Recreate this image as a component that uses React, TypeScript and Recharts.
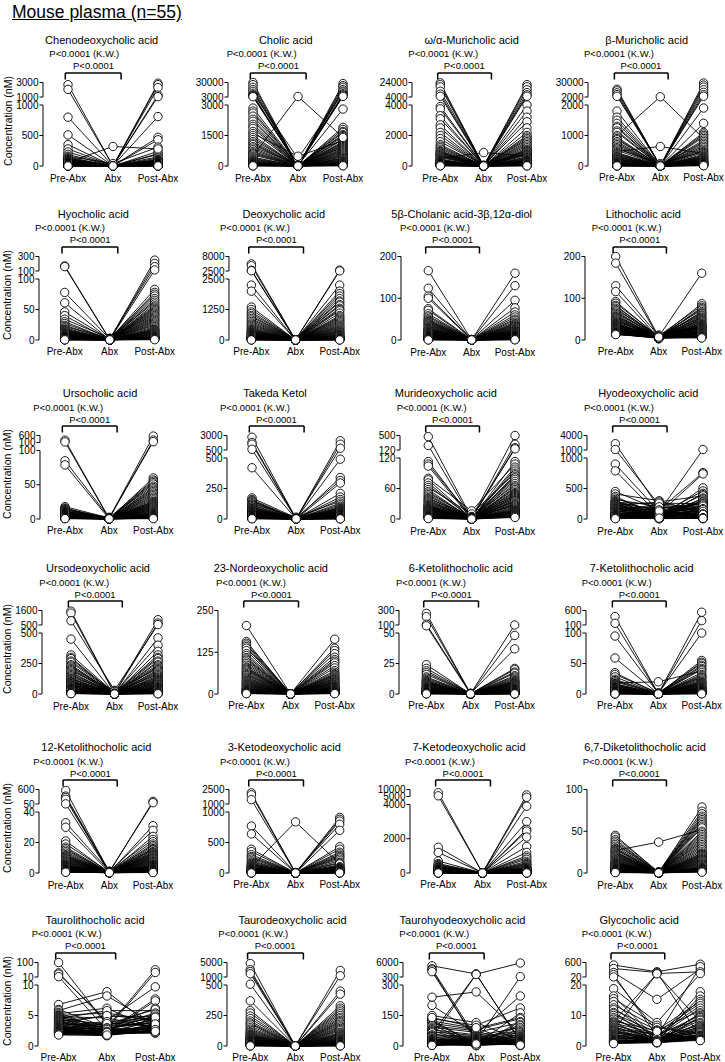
import React from 'react';
import { ComposedChart, Line, Scatter, XAxis, YAxis, ReferenceLine } from 'recharts';

const CATS = ['Pre-Abx', 'Abx', 'Post-Abx'];

// values in nM, one entry per mouse (n=55)
const cdcaPre = [2700, 2050, 800, 510, 350, 280, 230, 190, 160, 145, 130, 120, 110, 100, 95, 90, 85, 80, 75, 70, 65, 60, 55, 50, 48, 45, 42, 40, 38, 35, 32, 30, 28, 26, 24, 22, 20, 18, 16, 15, 14, 12, 11, 10, 9, 8, 7, 6, 5, 5, 4, 3, 3, 2, 1];
const cdcaAbx = [0, 0, 1, 2, 0, 5, 3, 0, 40, 0, 2, 0, 4, 0, 1, 0, 8, 0, 0, 3, 0, 320, 0, 2, 0, 1, 0, 0, 6, 0, 0, 2, 0, 0, 1, 0, 0, 3, 0, 0, 1, 0, 0, 0, 2, 0, 0, 0, 1, 0, 0, 0, 1, 0, 0];
const cdcaPost = [2900, 2700, 2300, 1250, 1050, 810, 470, 430, 310, 240, 200, 190, 150, 130, 110, 100, 95, 90, 85, 80, 75, 280, 70, 65, 60, 55, 50, 48, 45, 42, 40, 38, 35, 32, 30, 28, 26, 24, 22, 20, 18, 16, 15, 14, 12, 10, 9, 8, 7, 6, 5, 4, 3, 2, 1];

const caPre = [30000, 26000, 21000, 17000, 13500, 10000, 7300, 5500, 4200, 3500, 2850, 2700, 2600, 2450, 2300, 2200, 2050, 1950, 1850, 1700, 1600, 1500, 1400, 1300, 1200, 1120, 1050, 950, 880, 800, 720, 650, 600, 540, 480, 430, 380, 330, 290, 250, 220, 190, 160, 140, 120, 100, 85, 70, 60, 50, 40, 30, 20, 10, 5];
const caAbx = [0, 0, 10, 0, 20, 370, 0, 5, 0, 0, 30, 0, 0, 15, 0, 0, 40, 0, 0, 10, 480, 0, 0, 25, 0, 0, 0, 60, 0, 0, 0, 10, 0, 0, 4000, 0, 0, 20, 0, 0, 0, 0, 5, 0, 0, 0, 10, 0, 0, 0, 0, 5, 0, 0, 0];
const caPost = [28000, 24000, 21000, 17000, 14000, 12000, 9000, 7000, 5000, 4200, 2800, 1900, 1800, 1700, 1650, 1550, 1500, 1450, 1350, 1300, 1250, 1200, 1150, 1100, 1050, 1000, 950, 900, 850, 800, 750, 700, 650, 600, 1400, 550, 500, 450, 400, 370, 340, 300, 260, 230, 200, 180, 160, 140, 120, 100, 80, 60, 40, 20, 10];

const mcaPre = [23500, 21000, 18000, 12000, 8000, 5000, 3900, 3750, 3300, 3100, 2700, 2500, 2200, 2000, 1800, 1600, 1400, 1300, 1200, 1100, 1000, 950, 900, 850, 800, 750, 700, 650, 600, 550, 500, 450, 400, 380, 350, 320, 300, 280, 250, 220, 200, 180, 160, 140, 120, 100, 90, 80, 70, 60, 50, 40, 30, 20, 10];
const mcaAbx = [0, 0, 0, 20, 0, 0, 10, 0, 0, 30, 0, 0, 5, 0, 0, 50, 0, 0, 0, 15, 0, 0, 0, 40, 0, 0, 0, 10, 0, 0, 880, 0, 0, 0, 20, 0, 0, 0, 5, 0, 0, 0, 10, 0, 0, 0, 0, 0, 5, 0, 0, 0, 0, 0, 0];
const mcaPost = [21000, 18000, 14000, 10000, 7000, 5000, 4000, 3600, 3200, 2900, 2500, 2200, 2000, 1900, 1800, 1700, 1600, 1500, 1400, 1300, 1200, 1100, 1050, 1000, 950, 900, 850, 800, 750, 700, 650, 600, 550, 500, 450, 400, 380, 350, 320, 300, 270, 250, 220, 200, 180, 150, 130, 110, 90, 70, 50, 40, 30, 20, 10];

const bmcaPre = [17000, 14000, 10000, 6500, 3300, 1800, 1600, 1500, 1400, 1300, 1250, 1150, 1100, 1000, 950, 900, 860, 800, 750, 700, 650, 600, 560, 520, 480, 440, 410, 380, 350, 320, 300, 280, 250, 230, 210, 190, 170, 150, 130, 110, 100, 90, 80, 70, 60, 50, 40, 30, 25, 20, 15, 10, 8, 5, 2];
const bmcaAbx = [0, 0, 0, 10, 0, 0, 20, 0, 0, 5, 0, 0, 0, 2500, 0, 0, 30, 0, 0, 0, 10, 0, 80, 0, 640, 0, 0, 0, 15, 0, 0, 0, 5, 0, 0, 0, 40, 0, 0, 0, 0, 10, 0, 0, 0, 0, 0, 5, 0, 0, 0, 0, 0, 0, 0];
const bmcaPost = [29000, 25000, 21000, 16000, 11000, 6500, 3300, 1900, 1400, 1100, 1050, 1000, 950, 900, 850, 800, 750, 700, 650, 600, 550, 500, 470, 440, 410, 380, 350, 320, 300, 280, 260, 240, 220, 200, 180, 160, 150, 140, 130, 120, 110, 100, 90, 80, 70, 60, 50, 45, 40, 35, 30, 25, 20, 15, 10];

const hcaPre = [170, 160, 78, 61, 46, 40, 34, 30, 27, 24, 22, 20, 18, 17, 16, 15, 14, 13, 12, 11, 10, 9.5, 9, 8.5, 8, 7.5, 7, 6.5, 6, 5.5, 5, 4.8, 4.5, 4.2, 4, 3.8, 3.5, 3.2, 3, 2.8, 2.5, 2.2, 2, 1.8, 1.6, 1.4, 1.2, 1, 0.9, 0.8, 0.7, 0.6, 0.5, 0.4, 0.3];
const hcaAbx = [1, 0.5, 2, 0.3, 1.5, 0.2, 3, 0.5, 1, 0.2, 2.5, 0.4, 1, 0.3, 0.8, 0.2, 1.2, 0.5, 0.3, 2, 0.6, 0.2, 1, 0.4, 0.3, 0.8, 0.2, 0.5, 1.5, 0.3, 0.2, 0.6, 0.4, 1, 0.3, 0.2, 0.5, 0.8, 0.2, 0.3, 0.4, 0.2, 1, 0.3, 0.5, 0.2, 0.3, 0.6, 0.2, 0.4, 0.3, 0.2, 0.5, 0.3, 0.2];
const hcaPost = [250, 205, 160, 115, 83, 78, 75, 72, 68, 65, 62, 59, 56, 54, 52, 50, 48, 46, 44, 42, 40, 38, 36, 34, 32, 30, 28, 26, 24, 22, 20, 18, 17, 16, 15, 14, 13, 12, 11, 10, 9, 8, 7, 6, 5.5, 5, 4.5, 4, 3.5, 3, 2.5, 2, 1.5, 1, 0.5];

const dcaPre = [5200, 4500, 2800, 2600, 2250, 2000, 1350, 1250, 1150, 1080, 1000, 950, 880, 820, 760, 700, 650, 600, 550, 500, 460, 420, 400, 380, 350, 320, 300, 280, 260, 240, 220, 200, 180, 160, 150, 140, 130, 120, 110, 100, 90, 80, 70, 60, 50, 45, 40, 35, 30, 25, 20, 15, 10, 5, 2];
const dcaAbx = [0, 1, 0, 2, 0, 0, 3, 0, 1, 0, 0, 2, 0, 0, 1, 0, 0, 4, 0, 0, 1, 0, 0, 2, 0, 0, 1, 0, 0, 0, 3, 0, 0, 1, 0, 0, 0, 2, 0, 0, 1, 0, 0, 0, 2, 0, 0, 1, 0, 0, 0, 1, 0, 0, 0];
const dcaPost = [2800, 2550, 2250, 2000, 1900, 1800, 1700, 1600, 1550, 1450, 1400, 1300, 1250, 1200, 1100, 1000, 950, 900, 850, 800, 750, 700, 650, 600, 560, 520, 480, 440, 400, 370, 340, 310, 280, 250, 220, 200, 180, 160, 140, 120, 100, 90, 80, 70, 60, 50, 40, 35, 30, 25, 20, 15, 10, 5, 2];

const cholanPre = [166, 124, 105, 100, 75, 71, 63, 58, 55, 51, 48, 46, 44, 42, 40, 38, 36, 34, 32, 30, 28, 27, 26, 25, 24, 22, 21, 20, 19, 18, 17, 16, 15, 14, 13, 12, 11, 10, 9, 8, 7, 6.5, 6, 5.5, 5, 4.5, 4, 3.5, 3, 2.5, 2, 1.5, 1, 0.5, 0.2];
const cholanAbx = [0.5, 0.2, 1, 0.3, 0.8, 0.1, 0.4, 1.2, 0.2, 0.6, 0.3, 0.1, 0.9, 0.2, 0.5, 0.3, 0.1, 0.7, 0.2, 0.4, 0.1, 1, 0.3, 0.2, 0.5, 0.1, 0.3, 0.6, 0.2, 0.1, 0.4, 0.2, 0.8, 0.1, 0.3, 0.2, 0.5, 0.1, 0.2, 0.3, 0.1, 0.4, 0.2, 0.1, 0.3, 0.2, 0.1, 0.5, 0.2, 0.1, 0.3, 0.1, 0.2, 0.1, 0.1];
const cholanPost = [160, 130, 95, 77, 67, 60, 55, 50, 47, 43, 40, 38, 36, 34, 32, 30, 28, 26, 25, 24, 22, 21, 20, 19, 18, 17, 16, 15, 14, 13, 12, 11, 10, 9, 8.5, 8, 7.5, 7, 6.5, 6, 5.5, 5, 4.5, 4, 3.5, 3, 2.8, 2.5, 2.2, 2, 1.8, 1.5, 1.2, 1, 0.5];

const lcaPre = [200, 184, 130, 116, 92, 88, 83, 80, 76, 73, 70, 67, 64, 61, 58, 56, 54, 52, 50, 48, 46, 44, 42, 40, 39, 38, 37, 36, 35, 34, 33, 32, 31, 30, 29, 28, 27, 26, 25, 24, 23, 22, 21, 20, 19, 18, 17, 16.5, 16, 15.5, 15, 14.5, 14, 13.5, 13];
const lcaAbx = [8, 6, 10, 5, 7, 9, 4, 8, 6, 11, 5, 7, 8, 4, 6, 9, 5, 7, 3, 8, 6, 10, 5, 7, 4, 8, 6, 9, 5, 7, 12, 4, 6, 8, 5, 7, 3, 6, 9, 5, 7, 4, 8, 6, 5, 10, 4, 7, 6, 5, 8, 4, 6, 5, 7];
const lcaPost = [160, 87, 82, 78, 75, 72, 68, 65, 63, 60, 58, 55, 53, 51, 49, 47, 45, 43, 41, 39, 37, 36, 35, 34, 33, 32, 31, 30, 29, 28, 27, 26, 25, 24, 23, 22, 21, 20, 19, 18, 17, 16, 15, 14, 13, 12, 11, 10, 9, 8, 7, 6.5, 6, 5.5, 5];

const ucaPre = [260, 140, 85, 79, 18, 16, 15, 14, 13, 12, 11.5, 11, 10.5, 10, 9.5, 9, 8.5, 8, 7.5, 7, 6.8, 6.5, 6.2, 6, 5.8, 5.5, 5.2, 5, 4.8, 4.5, 4.2, 4, 3.8, 3.5, 3.2, 3, 2.8, 2.6, 2.4, 2.2, 2, 1.9, 1.8, 1.7, 1.6, 1.5, 1.4, 1.3, 1.2, 1.1, 1, 0.9, 0.8, 0.7, 0.5];
const ucaAbx = [1, 0.5, 2, 0.3, 1.5, 0.2, 1, 0.5, 2.5, 0.3, 0.8, 0.2, 1.2, 0.4, 0.6, 0.2, 1, 0.3, 0.5, 0.2, 0.8, 0.3, 0.5, 0.2, 1.5, 0.4, 0.2, 0.6, 0.3, 0.2, 0.5, 0.3, 0.8, 0.2, 0.4, 0.2, 0.3, 0.5, 0.2, 0.3, 0.2, 0.4, 0.2, 0.3, 0.6, 0.2, 0.3, 0.2, 0.4, 0.2, 0.3, 0.2, 0.2, 0.3, 0.2];
const ucaPost = [560, 270, 160, 60, 57, 55, 53, 51, 48, 46, 44, 42, 40, 38, 36, 34, 32, 30, 28, 26, 25, 24, 23, 22, 21, 20, 19, 18, 17, 16, 15, 14, 13, 12, 11, 10, 9, 8, 7.5, 7, 6.5, 6, 5.5, 5, 4.5, 4, 3.5, 3, 2.5, 2, 1.8, 1.5, 1.2, 1, 0.5];

const tkPre = [2700, 1800, 1500, 620, 420, 172, 160, 150, 145, 135, 125, 117, 110, 100, 96, 90, 85, 80, 76, 72, 68, 65, 62, 58, 55, 52, 50, 47, 44, 41, 38, 35, 32, 30, 28, 26, 24, 22, 20, 18, 16, 15, 14, 13, 12, 11, 10, 9, 8, 7, 6, 5, 4, 3, 2];
const tkAbx = [2, 0, 5, 1, 0, 10, 0, 3, 1, 0, 15, 0, 2, 0, 1, 4, 0, 0, 2, 0, 8, 0, 1, 0, 3, 0, 0, 1, 0, 5, 0, 2, 0, 0, 1, 0, 3, 0, 0, 1, 0, 2, 0, 1, 0, 0, 1, 0, 2, 0, 0, 1, 0, 0, 1];
const tkPost = [2100, 1500, 800, 490, 340, 315, 295, 210, 180, 160, 145, 130, 117, 105, 96, 90, 85, 80, 75, 70, 66, 63, 60, 56, 52, 48, 45, 42, 39, 36, 33, 30, 28, 26, 24, 22, 20, 18, 16, 14, 13, 12, 11, 10, 9, 8, 7, 6, 5, 4.5, 4, 3.5, 3, 2, 1];

const mdcaPre = [470, 240, 113, 108, 104, 80, 77, 71, 66, 62, 58, 54, 51, 48, 45, 42, 40, 38, 36, 34, 32, 30, 28, 27, 26, 25, 24, 23, 22, 21, 20, 19, 18, 17, 16, 15, 14, 13, 12, 11, 10, 9, 8, 7, 6, 5.5, 5, 4.5, 4, 3.5, 3, 2.5, 2, 1.5, 1];
const mdcaAbx = [2, 0, 1, 3, 0, 16, 1, 0, 2, 10, 0, 1, 3, 0, 2, 0, 5, 1, 0, 2, 0, 4, 1, 0, 3, 0, 1, 2, 0, 1, 0, 2, 0, 1, 0, 3, 0, 1, 0, 2, 0, 1, 0, 0, 1, 0, 2, 0, 1, 0, 0, 1, 0, 0, 0];
const mdcaPost = [500, 270, 180, 150, 113, 108, 102, 98, 94, 90, 87, 84, 81, 78, 74, 70, 66, 63, 61, 58, 55, 52, 50, 48, 46, 44, 42, 40, 38, 36, 35, 33, 31, 29, 28, 26, 24, 22, 20, 18, 17, 16, 15, 14, 13, 12, 11, 10, 9, 8, 7, 6, 5, 4, 3];

const hdcaPre = [2300, 1100, 900, 790, 450, 410, 370, 344, 320, 300, 290, 280, 270, 260, 250, 240, 235, 230, 220, 210, 200, 190, 180, 175, 170, 160, 150, 140, 130, 125, 120, 110, 100, 95, 90, 85, 82, 78, 74, 70, 65, 60, 55, 50, 45, 44, 40, 35, 30, 25, 20, 16, 12, 8, 5];
const hdcaAbx = [180, 230, 120, 60, 150, 300, 40, 90, 200, 20, 130, 70, 250, 10, 160, 50, 110, 30, 280, 80, 5, 140, 60, 190, 25, 100, 15, 220, 45, 75, 170, 35, 260, 8, 120, 55, 90, 12, 140, 65, 30, 200, 85, 20, 110, 40, 150, 10, 70, 25, 95, 5, 50, 130, 15];
const hdcaPost = [240, 150, 1100, 200, 760, 90, 300, 740, 130, 510, 60, 460, 180, 420, 110, 400, 270, 80, 380, 220, 344, 40, 330, 160, 310, 100, 290, 55, 280, 140, 260, 25, 250, 190, 230, 70, 210, 120, 170, 35, 155, 95, 125, 50, 85, 65, 45, 30, 75, 20, 16, 12, 8, 5, 10];

const udcaPre = [1550, 1400, 820, 450, 320, 300, 290, 270, 260, 240, 230, 220, 210, 200, 190, 180, 170, 160, 150, 140, 130, 125, 120, 110, 105, 100, 95, 90, 85, 80, 75, 70, 65, 60, 55, 50, 45, 42, 40, 36, 32, 28, 25, 22, 20, 18, 16, 14, 12, 10, 8, 6, 5, 4, 3];
const udcaAbx = [5, 2, 30, 0, 8, 1, 0, 15, 3, 0, 2, 10, 0, 1, 25, 0, 4, 0, 2, 12, 0, 1, 6, 0, 3, 0, 20, 1, 0, 2, 0, 5, 1, 0, 8, 0, 2, 0, 1, 0, 3, 0, 1, 0, 2, 0, 0, 1, 0, 0, 1, 0, 0, 1, 0];
const udcaPost = [900, 650, 530, 460, 400, 350, 320, 300, 290, 270, 260, 240, 230, 220, 210, 200, 190, 180, 170, 160, 150, 140, 133, 125, 118, 110, 105, 100, 95, 90, 83, 78, 72, 66, 61, 56, 52, 48, 44, 40, 36, 32, 28, 25, 22, 20, 18, 15, 12, 10, 8, 6, 4, 3, 2];

const norPre = [205, 157, 152, 147, 142, 137, 130, 121, 115, 109, 105, 101, 96, 91, 86, 81, 78, 75, 72, 69, 65, 61, 58, 55, 51, 48, 45, 42, 40, 37, 35, 32, 30, 28, 26, 24, 22, 20, 18, 16, 15, 14, 12, 11, 10, 9, 8, 7, 6, 5, 4, 3, 2, 1.5, 1];
const norAbx = [0.5, 0.2, 1, 0.1, 0.3, 0.8, 0.2, 0.1, 0.5, 0.3, 0.1, 1.2, 0.2, 0.4, 0.1, 0.3, 0.6, 0.2, 0.1, 0.4, 0.2, 0.1, 0.8, 0.3, 0.1, 0.2, 0.5, 0.1, 0.3, 0.2, 0.1, 0.4, 0.2, 0.1, 0.3, 0.1, 0.2, 0.5, 0.1, 0.2, 0.3, 0.1, 0.2, 0.1, 0.4, 0.1, 0.2, 0.1, 0.3, 0.1, 0.2, 0.1, 0.1, 0.2, 0.1];
const norPost = [164, 137, 130, 121, 110, 103, 98, 93, 85, 78, 70, 65, 61, 58, 56, 53, 50, 47, 45, 43, 40, 38, 36, 34, 32, 30, 28, 26, 24, 22, 21, 20, 19, 18, 17, 16, 15, 14, 13, 12, 11, 10, 9, 8, 7, 6, 5, 4.5, 4, 3.5, 3, 2.5, 2, 1.5, 1];

const k6Pre = [260, 215, 110, 95, 24, 21, 19, 17.5, 16, 14, 13, 12, 11, 10.5, 10, 9.5, 9, 8.5, 8, 7.5, 7, 6.5, 6, 5.5, 5, 4.8, 4.5, 4.2, 4, 3.8, 3.5, 3.2, 3, 2.8, 2.6, 2.4, 2.2, 2, 1.8, 1.6, 1.5, 1.4, 1.3, 1.2, 1.1, 1, 0.9, 0.8, 0.7, 0.6, 0.5, 0.4, 0.3, 0.2, 0.1];
const k6Abx = [0.3, 0.1, 0.5, 0.2, 0.1, 0.4, 0.2, 0.1, 0.3, 0.1, 0.2, 0.5, 0.1, 0.2, 0.1, 0.3, 0.1, 0.2, 0.1, 0.4, 0.1, 0.2, 0.1, 0.3, 0.1, 0.2, 0.1, 0.1, 0.2, 0.1, 0.3, 0.1, 0.2, 0.1, 0.1, 0.2, 0.1, 0.3, 0.1, 0.1, 0.2, 0.1, 0.1, 0.2, 0.1, 0.1, 0.2, 0.1, 0.1, 0.1, 0.2, 0.1, 0.1, 0.1, 0.1];
const k6Post = [100, 48, 37, 21, 20, 18, 17, 15, 14, 13, 12, 11, 10.5, 10, 9.5, 9, 8.5, 8, 7.5, 7, 6.5, 6, 5.5, 5, 4.5, 4, 3.8, 3.5, 3.2, 3, 2.8, 2.6, 2.4, 2.2, 2, 1.8, 1.6, 1.5, 1.4, 1.3, 1.2, 1.1, 1, 0.9, 0.8, 0.7, 0.6, 0.5, 0.4, 0.35, 0.3, 0.25, 0.2, 0.15, 0.1];

const k7Pre = [390, 160, 95, 59, 35, 32, 28, 24, 22, 20, 18, 17, 16, 15, 14, 13, 12, 11, 10.5, 10, 9.5, 9, 8.5, 8, 7.5, 7, 6.5, 6, 5.5, 5, 4.8, 4.5, 4.2, 4, 3.8, 3.5, 3.2, 3, 2.8, 2.6, 2.4, 2.2, 2, 1.8, 1.6, 1.5, 1.4, 1.2, 1, 0.9, 0.8, 0.6, 0.5, 0.3, 0.2];
const k7Abx = [0.5, 0.2, 1, 0.3, 0.1, 2, 0.4, 0.2, 0.1, 0.5, 20, 0.3, 0.1, 0.2, 1, 0.1, 0.3, 0.2, 0.1, 0.4, 0.2, 0.1, 0.3, 0.1, 0.2, 0.5, 0.1, 0.2, 0.1, 0.3, 0.1, 0.2, 0.1, 0.1, 0.3, 0.1, 0.2, 0.1, 0.1, 0.2, 0.1, 0.1, 0.2, 0.1, 0.1, 0.1, 0.2, 0.1, 0.1, 0.1, 0.1, 0.2, 0.1, 0.1, 0.1];
const k7Post = [540, 250, 100, 55, 52, 50, 47, 45, 42, 40, 38, 35, 32, 30, 28, 27, 25, 23, 21, 20, 19, 18, 17, 16, 15, 14, 13, 12, 11, 10, 9.5, 9, 8.5, 8, 7.5, 7, 6.5, 6, 5.5, 5, 4.5, 4, 3.5, 3, 2.8, 2.5, 2.2, 2, 1.8, 1.5, 1.2, 1, 0.8, 0.5, 0.3];

const k12Pre = [560, 350, 300, 230, 55, 33, 30, 21, 19, 17, 16, 15, 14, 13, 12, 11.5, 11, 10.5, 10, 9.5, 9, 8.5, 8, 7.5, 7, 6.5, 6, 5.5, 5.2, 5, 4.8, 4.5, 4.2, 4, 3.8, 3.5, 3.2, 3, 2.8, 2.6, 2.4, 2.2, 2, 1.8, 1.6, 1.5, 1.4, 1.3, 1.2, 1.1, 1, 0.9, 0.8, 0.6, 0.5];
const k12Abx = [0.5, 1, 0.3, 0.8, 0.2, 1.2, 0.4, 0.2, 0.6, 0.3, 0.2, 0.5, 0.3, 0.2, 0.8, 0.2, 0.4, 0.3, 0.2, 0.5, 0.3, 0.2, 0.4, 0.2, 0.3, 0.6, 0.2, 0.3, 0.2, 0.4, 0.2, 0.3, 0.2, 0.5, 0.2, 0.3, 0.2, 0.2, 0.4, 0.2, 0.3, 0.2, 0.2, 0.3, 0.2, 0.2, 0.3, 0.2, 0.2, 0.2, 0.3, 0.2, 0.2, 0.2, 0.2];
const k12Post = [150, 100, 31, 28, 24, 22, 20.5, 19, 18, 17, 16, 15.5, 15, 14, 13.5, 13, 12.5, 12, 11.5, 11, 10.5, 10, 9.5, 9, 8.5, 8, 7.5, 7, 6.5, 6, 5.5, 5, 4.8, 4.5, 4.2, 4, 3.8, 3.5, 3.2, 3, 2.8, 2.5, 2.2, 2, 1.8, 1.6, 1.4, 1.2, 1, 0.9, 0.8, 0.6, 0.5, 0.4, 0.3];

const k3Pre = [2150, 1950, 1450, 770, 640, 390, 350, 300, 270, 250, 227, 200, 180, 162, 150, 140, 130, 119, 110, 100, 95, 90, 85, 81, 75, 70, 65, 60, 54, 50, 46, 42, 38, 35, 32, 29, 27, 25, 22, 20, 18, 16, 14, 12, 10, 9, 8, 7, 6, 5, 4, 3, 2, 1.5, 1];
const k3Abx = [0, 2, 0, 5, 0, 1, 0, 0, 3, 0, 1, 0, 8, 0, 0, 2, 0, 1, 0, 838, 0, 0, 4, 0, 1, 0, 0, 2, 0, 0, 1, 0, 0, 6, 0, 0, 1, 0, 0, 2, 0, 0, 1, 0, 0, 0, 1, 0, 0, 0, 1, 0, 0, 0, 0];
const k3Post = [910, 880, 850, 800, 700, 430, 390, 340, 314, 290, 270, 250, 227, 200, 173, 160, 135, 120, 110, 150, 100, 95, 90, 81, 75, 70, 65, 60, 55, 50, 46, 42, 38, 35, 32, 29, 27, 25, 22, 20, 18, 16, 14, 12, 10, 9, 8, 7, 6, 5, 4, 3, 2, 1.5, 1];

const k7dPre = [7700, 5500, 1500, 1200, 700, 550, 500, 450, 400, 390, 350, 320, 300, 290, 270, 250, 230, 210, 200, 190, 180, 170, 160, 156, 150, 140, 130, 120, 110, 100, 95, 90, 85, 80, 75, 70, 65, 60, 55, 50, 45, 40, 35, 30, 28, 25, 22, 20, 18, 15, 12, 10, 8, 5, 2];
const k7dAbx = [0, 2, 0, 5, 0, 1, 0, 10, 0, 0, 3, 0, 1, 0, 0, 2, 0, 0, 6, 0, 1, 0, 0, 3, 0, 0, 1, 0, 0, 2, 0, 0, 1, 0, 4, 0, 0, 1, 0, 0, 2, 0, 0, 1, 0, 0, 0, 1, 0, 0, 0, 1, 0, 0, 0];
const k7dPost = [6100, 4900, 3900, 3000, 2550, 2450, 2100, 1550, 1200, 1000, 900, 800, 680, 600, 550, 490, 450, 400, 350, 300, 290, 270, 250, 230, 210, 190, 170, 156, 140, 130, 120, 110, 100, 90, 80, 70, 65, 60, 55, 50, 45, 40, 35, 30, 28, 25, 22, 20, 18, 15, 12, 10, 8, 5, 2];

const dkPre = [45, 43, 40, 38, 36, 34, 32, 30, 29, 28, 27, 26, 25, 24, 23, 22, 21, 20, 19, 18, 17, 16, 15, 14, 13, 12.5, 12, 11.5, 11, 10.5, 10, 9.5, 9, 8.5, 8, 7.5, 7, 6.5, 6, 5.5, 5, 4.5, 4, 3.5, 3, 2.8, 2.5, 2.2, 2, 1.8, 1.5, 1.2, 1, 0.8, 0.5];
const dkAbx = [0.5, 1, 0.3, 0.8, 0.2, 1.5, 0.4, 0.2, 0.6, 0.3, 37, 0.5, 0.3, 0.2, 0.8, 0.2, 0.4, 0.3, 0.2, 1, 0.3, 0.2, 0.4, 0.2, 0.3, 0.6, 0.2, 0.3, 0.2, 0.4, 0.2, 0.3, 0.2, 0.5, 0.2, 0.3, 0.2, 0.2, 0.4, 0.2, 0.3, 0.2, 0.2, 0.3, 0.2, 0.2, 0.3, 0.2, 0.2, 0.2, 0.3, 0.2, 0.2, 0.2, 0.2];
const dkPost = [79, 74, 71, 68, 66, 64, 62, 60, 58, 56, 52, 54, 50, 48, 46, 44, 42, 40, 38, 36, 34, 32, 30, 28, 26, 24, 23, 22, 21, 20, 19, 18, 17, 16, 15, 14, 13, 12, 11, 10, 9, 8, 7, 6.5, 6, 5.5, 5, 4.5, 4, 3.5, 3, 2.5, 2, 1.5, 1];

const tlcaPre = [100, 36, 28, 12, 6.8, 6, 5.8, 5.5, 5.3, 5.1, 5, 4.9, 4.8, 4.7, 4.6, 4.5, 4.4, 4.3, 4.2, 4.1, 4, 3.9, 3.8, 3.7, 3.6, 3.5, 3.4, 3.3, 3.2, 3.1, 3, 3, 2.9, 2.9, 2.8, 2.8, 2.7, 2.7, 2.6, 2.6, 2.5, 2.5, 2.4, 2.4, 2.3, 2.3, 2.2, 2.2, 2.1, 2.1, 2, 2, 1.9, 1.9, 1.8];
const tlcaAbx = [3.5, 3.8, 4.2, 2.6, 8.9, 3, 8.2, 2.4, 6.2, 2.8, 5.4, 2.2, 4.6, 3.3, 2, 5.8, 2.9, 3.6, 2.5, 4.9, 2.1, 3.1, 2.7, 5, 2.3, 3.4, 1.9, 4, 2.6, 3.2, 2.2, 2.8, 3.7, 2, 2.4, 3, 1.8, 2.5, 2.9, 2.1, 2.3, 1.9, 2.7, 2, 2.2, 1.8, 2.4, 1.7, 2.1, 2, 1.9, 2.3, 1.7, 2.2, 1.8];
const tlcaPost = [4.5, 3.2, 9.7, 5, 2.8, 55, 3.6, 7.7, 2.6, 38, 4.1, 7.4, 3, 6.2, 2.5, 5.8, 3.9, 6, 2.7, 4.8, 3.3, 5.4, 2.9, 4.3, 3.5, 5.2, 2.4, 4.6, 3.1, 3.8, 2.3, 4.9, 3.4, 2.6, 4, 2.2, 3.7, 2.8, 4.2, 2.5, 3, 2.4, 4.4, 2.9, 2.3, 3.1, 2.2, 4.7, 2.5, 2.1, 3.6, 2.3, 2.7, 2.2, 2.4];

const tdcaPre = [4700, 3000, 2500, 1900, 550, 370, 290, 270, 245, 225, 205, 190, 180, 165, 150, 138, 128, 117, 110, 100, 95, 90, 85, 80, 75, 70, 65, 60, 58, 55, 50, 45, 42, 40, 36, 32, 30, 28, 25, 22, 20, 18, 16, 14, 12, 10, 9, 8, 7, 6, 5, 4, 3, 2, 1];
const tdcaAbx = [0, 1, 0, 0.5, 0, 2, 0, 0.3, 1, 0, 0, 0.5, 0, 1.5, 0, 0.2, 0, 1, 0, 0.3, 0, 0.8, 0, 0, 0.4, 0, 1, 0, 0.2, 0, 0, 0.5, 0, 0, 0.3, 0, 0, 0.6, 0, 0, 0.2, 0, 0, 0.4, 0, 0, 0.1, 0, 0, 0.2, 0, 0, 0.1, 0, 0];
const tdcaPost = [2800, 1350, 450, 425, 330, 310, 295, 280, 265, 250, 235, 223, 210, 200, 190, 178, 165, 155, 144, 135, 125, 112, 105, 98, 92, 85, 78, 72, 66, 60, 55, 50, 45, 40, 37, 34, 31, 28, 25, 22, 20, 18, 16, 14, 12, 10, 9, 8, 7, 6, 5, 4, 3, 2, 1];

const thdcaPre = [4700, 3500, 3100, 2400, 240, 200, 60, 150, 40, 134, 128, 123, 118, 112, 105, 99, 92, 86, 80, 75, 70, 65, 55, 50, 46, 43, 37, 34, 31, 28, 26, 24, 22, 20, 18, 17, 16, 15, 14, 13, 12, 11, 10, 9, 8, 7, 6.5, 6, 5.5, 5, 4.5, 4, 3.5, 3, 140];
const thdcaAbx = [1500, 40, 20, 30, 266, 60, 1400, 115, 1300, 102, 8, 86, 12, 80, 5, 75, 67, 18, 55, 10, 51, 3, 48, 45, 7, 42, 9, 38, 36, 4, 34, 32, 30, 2, 28, 27, 6, 26, 24, 22, 5, 20, 19, 3, 18, 17, 16, 2, 15, 14, 13, 12, 11, 10, 90];
const thdcaPost = [20, 10, 450, 15, 60, 246, 5800, 30, 25, 187, 163, 140, 8, 134, 120, 5, 115, 105, 12, 99, 90, 83, 3, 75, 70, 65, 59, 55, 2, 50, 46, 43, 40, 37, 34, 31, 29, 27, 25, 23, 21, 19, 17, 16, 15, 14, 13, 12, 11, 10, 9, 8, 7, 6, 4];

const gcaPre = [500, 360, 200, 115, 5, 8, 18.8, 16.4, 15.5, 14.6, 13.5, 12.5, 11.9, 11, 10.6, 10, 9.3, 8.8, 8.2, 7.8, 7.5, 7.1, 6.8, 6.5, 6.1, 5.8, 5.5, 5.2, 5, 4.8, 4.5, 4.2, 3.9, 3.7, 3.5, 3.3, 3.1, 2.9, 2.7, 2.5, 2.3, 2.1, 1.9, 1.8, 1.7, 1.6, 1.5, 1.4, 1.3, 1.2, 1.1, 1, 0.9, 0.8, 22];
const gcaAbx = [230, 200, 15.3, 3.2, 160, 150, 7.7, 2.1, 6.8, 1.5, 6.1, 2.5, 5.3, 1.3, 4.5, 3.6, 1.8, 2.9, 5, 1.2, 4.1, 2.2, 3.4, 1.6, 2.7, 1.4, 3.9, 2, 1.2, 2.4, 1.7, 3, 1.3, 2.6, 1.9, 1.1, 2.3, 1.5, 1.8, 1.2, 2.8, 1.4, 1.6, 1.1, 2, 1.3, 1.7, 1.2, 1.5, 1.1, 1.4, 1.2, 1.3, 1.1, 4.8];
const gcaPost = [530, 3, 340, 434, 227, 8, 157, 17.8, 2.4, 16.4, 4.1, 15.3, 14.6, 2.9, 14, 13.2, 3.7, 12.4, 11.6, 10.9, 2.2, 10.5, 10, 9.6, 3.3, 9.3, 8.8, 8.4, 7.7, 2.6, 7.3, 6.8, 6.5, 6.2, 5.9, 5.6, 5.3, 5, 4.8, 4.5, 4.3, 3.9, 3.5, 3.4, 3.2, 3.1, 3, 2.8, 2.7, 2.5, 2.3, 2.1, 2, 1.9, 1.8];

type Panel = { name: string; pre: number[]; abx: number[]; post: number[]; low: number; lowTicks: number[]; up?: [number, number] };

const PANELS: Panel[] = [
  { name: 'Chenodeoxycholic acid', pre: cdcaPre, abx: cdcaAbx, post: cdcaPost, low: 1000, lowTicks: [0, 500, 1000], up: [1000, 3000] },
  { name: 'Cholic acid', pre: caPre, abx: caAbx, post: caPost, low: 3000, lowTicks: [0, 1500, 3000], up: [3000, 30000] },
  { name: 'ω/α-Muricholic acid', pre: mcaPre, abx: mcaAbx, post: mcaPost, low: 4000, lowTicks: [0, 2000, 4000], up: [4000, 24000] },
  { name: 'β-Muricholic acid', pre: bmcaPre, abx: bmcaAbx, post: bmcaPost, low: 2000, lowTicks: [0, 1000, 2000], up: [2000, 30000] },
  { name: 'Hyocholic acid', pre: hcaPre, abx: hcaAbx, post: hcaPost, low: 100, lowTicks: [0, 50, 100], up: [100, 300] },
  { name: 'Deoxycholic acid', pre: dcaPre, abx: dcaAbx, post: dcaPost, low: 2500, lowTicks: [0, 1250, 2500], up: [2500, 8000] },
  { name: '5β-Cholanic acid-3β,12α-diol', pre: cholanPre, abx: cholanAbx, post: cholanPost, low: 200, lowTicks: [0, 100, 200] },
  { name: 'Lithocholic acid', pre: lcaPre, abx: lcaAbx, post: lcaPost, low: 200, lowTicks: [0, 100, 200] },
  { name: 'Ursocholic acid', pre: ucaPre, abx: ucaAbx, post: ucaPost, low: 100, lowTicks: [0, 50, 100], up: [100, 600] },
  { name: 'Takeda Ketol', pre: tkPre, abx: tkAbx, post: tkPost, low: 500, lowTicks: [0, 250, 500], up: [500, 3000] },
  { name: 'Murideoxycholic acid', pre: mdcaPre, abx: mdcaAbx, post: mdcaPost, low: 120, lowTicks: [0, 60, 120], up: [120, 500] },
  { name: 'Hyodeoxycholic acid', pre: hdcaPre, abx: hdcaAbx, post: hdcaPost, low: 1000, lowTicks: [0, 500, 1000], up: [1000, 4000] },
  { name: 'Ursodeoxycholic acid', pre: udcaPre, abx: udcaAbx, post: udcaPost, low: 500, lowTicks: [0, 250, 500], up: [500, 1600] },
  { name: '23-Nordeoxycholic acid', pre: norPre, abx: norAbx, post: norPost, low: 250, lowTicks: [0, 125, 250] },
  { name: '6-Ketolithocholic acid', pre: k6Pre, abx: k6Abx, post: k6Post, low: 50, lowTicks: [0, 25, 50], up: [100, 300] },
  { name: '7-Ketolithocholic acid', pre: k7Pre, abx: k7Abx, post: k7Post, low: 100, lowTicks: [0, 50, 100], up: [100, 600] },
  { name: '12-Ketolithocholic acid', pre: k12Pre, abx: k12Abx, post: k12Post, low: 40, lowTicks: [0, 20, 40], up: [50, 600] },
  { name: '3-Ketodeoxycholic acid', pre: k3Pre, abx: k3Abx, post: k3Post, low: 1000, lowTicks: [0, 500, 1000], up: [1000, 2500] },
  { name: '7-Ketodeoxycholic acid', pre: k7dPre, abx: k7dAbx, post: k7dPost, low: 4000, lowTicks: [0, 2000, 4000], up: [5000, 10000] },
  { name: '6,7-Diketolithocholic acid', pre: dkPre, abx: dkAbx, post: dkPost, low: 100, lowTicks: [0, 50, 100] },
  { name: 'Taurolithocholic acid', pre: tlcaPre, abx: tlcaAbx, post: tlcaPost, low: 10, lowTicks: [0, 5, 10], up: [10, 100] },
  { name: 'Taurodeoxycholic acid', pre: tdcaPre, abx: tdcaAbx, post: tdcaPost, low: 500, lowTicks: [0, 250, 500], up: [1000, 5000] },
  { name: 'Taurohyodeoxycholic acid', pre: thdcaPre, abx: thdcaAbx, post: thdcaPost, low: 300, lowTicks: [0, 150, 300], up: [300, 6000] },
  { name: 'Glycocholic acid', pre: gcaPre, abx: gcaAbx, post: gcaPost, low: 20, lowTicks: [0, 10, 20], up: [20, 600] },
];

// layout: [axis x, Pre-Abx x, Post-Abx x, title centre offset, K.W. text offset]
const LAYOUT = [
  [43.3, 68.3, 158.3, 58.4, 6], [228.3, 253.3, 343.3, 57.5, -1.6], [411.7, 440, 526.7, 60, -3.4], [587.7, 616.7, 703.3, 59, -3.7],
  [39.3, 65, 155, 54, -4.3], [229.3, 251.7, 340, 54.5, -9.3], [401, 428.3, 515, 60.7, -1], [585, 615.7, 701.7, 58.3, 6.7],
  [40, 65, 153.3, 60, -6.7], [226.7, 251.7, 340, 48.3, -6.7], [400, 428.3, 515, 45.8, -3.3], [586.7, 615, 702.7, 61.6, -2.7],
  [41.7, 70.7, 157.7, 56.3, -2.4], [218.3, 246.7, 335, 52.5, -2.3], [399.3, 426.7, 515, 61.5, -3.3], [586, 615, 701.7, 55.7, -4.3],
  [39.3, 66, 153.3, 57, -6], [229.3, 251.7, 340, 55, -9.3], [410, 438.3, 526.7, 59, -5], [586.7, 615, 701.7, 58.3, -4],
  [37.7, 58.3, 155, 57.3, -6], [226.7, 250, 340, 65.8, -8.4], [402.7, 431.7, 520, 59.8, -3.4], [585.7, 613.3, 700, 53.5, -4],
];
const ROW_ZERO = [166, 340, 519.3, 694.3, 873.3, 1045.7];
const TALL_LOW = [8, 18]; // panels whose lower axis segment is taller

const FONT = '"Liberation Sans", Arial, Helvetica, sans-serif';
const PLOT_H = 100; // y display units equal pixels above the zero line
const TOP = 83.5;
const BR_Y = 93;
const BR_L = -0.06;
const BR_R = 1.18;

const toPx = (v: number, p: Panel, lp: number, upp: number) => {
  if (!p.up) return (v / p.low) * TOP;
  if (v <= p.low) return (v / p.low) * lp;
  if (v < p.up[0]) return lp + ((v - p.low) / (p.up[0] - p.low)) * (upp - lp);
  return upp + ((Math.min(v, p.up[1]) - p.up[0]) / (p.up[1] - p.up[0])) * (TOP - upp);
};

const XTick = (props: any) => (
  <text x={props.x} y={props.y + 15.5} textAnchor="middle" fontSize={10} fill="#000">{CATS[props.payload.value]}</text>
);

const Dot = (props: any) => <circle cx={props.cx} cy={props.cy} r={4.2} fill="#fff" stroke="#000" strokeWidth={0.9} />;

const PanelChart = ({ p, i }: { p: Panel; i: number }) => {
  const [axisX, preX, postX, tOff, kOff] = LAYOUT[i];
  const zero = ROW_ZERO[Math.floor(i / 4)];
  const tall = TALL_LOW.includes(i);
  const lp = tall ? 68.5 : 61;
  const upp = tall ? 76.5 : 69;
  const u = (postX - preX) / 2;
  const xMin = -(preX - axisX) / u;
  const xMax = 2 + 12 / u;
  const plotW = postX + 12 - axisX;
  const YW = 40;
  const XH = 22;
  const RM = 26; // room on the right for the last category label

  const n = Math.min(p.pre.length, p.abx.length, p.post.length);
  const lineData: { x: number; y: number | null }[] = [];
  const dots: { x: number; y: number }[] = [];
  for (let k = 0; k < n; k++) {
    [p.pre[k], p.abx[k], p.post[k]].forEach((v, j) => {
      const y = toPx(v, p, lp, upp);
      lineData.push({ x: j, y });
      dots.push({ x: j, y });
    });
    lineData.push({ x: 2, y: null });
  }

  const ticks = p.up
    ? [...p.lowTicks.map((t) => ({ pos: (t / p.low) * lp, label: t })), { pos: upp, label: p.up[0] }, { pos: TOP, label: p.up[1] }]
    : p.lowTicks.map((t) => ({ pos: (t / p.low) * TOP, label: t }));
  const tickLabel = (v: number) => {
    const t = ticks.find((d) => Math.abs(d.pos - v) < 1e-6);
    return t ? String(t.label) : '';
  };

  const brCenter = preX + u * (BR_L + BR_R) / 2;
  const yLabelX = Math.max(axisX - 35, 7);

  return (
    <>
      <div style={{ position: 'absolute', left: axisX + tOff - 100, width: 200, top: zero - 125.5 - 5.5, textAlign: 'center', fontSize: 11, lineHeight: '11px', whiteSpace: 'nowrap' }}>{p.name}</div>
      <div style={{ position: 'absolute', left: axisX + kOff, top: zero - 112 - 4.75, fontSize: 9.5, lineHeight: '9.5px', whiteSpace: 'nowrap' }}>P&lt;0.0001 (K.W.)</div>
      <div style={{ position: 'absolute', left: brCenter - 40, width: 80, top: zero - 100 - 4.75, textAlign: 'center', fontSize: 9.5, lineHeight: '9.5px', whiteSpace: 'nowrap' }}>P&lt;0.0001</div>
      {i % 4 === 0 && (
        <div style={{ position: 'absolute', left: yLabelX, top: zero - 45, width: 0, height: 0 }}>
          <div style={{ position: 'absolute', left: -60, top: -6, width: 120, textAlign: 'center', fontSize: 10.5, lineHeight: '12px', transform: 'rotate(-90deg)', whiteSpace: 'nowrap' }}>Concentration (nM)</div>
        </div>
      )}
      <div style={{ position: 'absolute', left: axisX - YW, top: zero - PLOT_H }}>
        <ComposedChart width={YW + plotW + RM} height={PLOT_H + XH} margin={{ top: 0, right: RM, bottom: 0, left: 0 }}>
          <XAxis type="number" dataKey="x" domain={[xMin, xMax]} ticks={[0, 1, 2]} interval={0} axisLine={false} tickLine={false} tickSize={0} tickMargin={0} height={XH} tick={XTick} />
          <YAxis type="number" dataKey="y" domain={[0, PLOT_H]} ticks={ticks.map((t) => t.pos)} interval={0} width={YW} axisLine={false} stroke="#000" tickLine={{ stroke: '#000', strokeWidth: 1 }} tickSize={3.5} tickMargin={1} tick={{ fontSize: 10, fill: '#000' }} tickFormatter={tickLabel} />
          <ReferenceLine segment={[{ x: xMin, y: 0 }, { x: xMin, y: p.up ? lp : TOP }]} stroke="#000" strokeWidth={1} ifOverflow="visible" />
          {p.up && <ReferenceLine segment={[{ x: xMin, y: upp }, { x: xMin, y: TOP }]} stroke="#000" strokeWidth={1} ifOverflow="visible" />}
          <ReferenceLine segment={[{ x: BR_L, y: BR_Y }, { x: BR_R, y: BR_Y }]} stroke="#000" strokeWidth={1.5} ifOverflow="visible" />
          <ReferenceLine segment={[{ x: BR_L, y: BR_Y - 6.5 }, { x: BR_L, y: BR_Y }]} stroke="#000" strokeWidth={1.5} ifOverflow="visible" />
          <ReferenceLine segment={[{ x: BR_R, y: BR_Y - 6.5 }, { x: BR_R, y: BR_Y }]} stroke="#000" strokeWidth={1.5} ifOverflow="visible" />
          <Line data={lineData} dataKey="y" stroke="#000" strokeWidth={0.9} dot={false} activeDot={false} connectNulls={false} isAnimationActive={false} />
          <Scatter data={dots} dataKey="y" shape={Dot} isAnimationActive={false} />
        </ComposedChart>
      </div>
    </>
  );
};

export default function App() {
  return (
    <div style={{ position: 'absolute', left: 0, top: 0, width: 725, height: 1062, background: '#fff', fontFamily: FONT, color: '#000', overflow: 'hidden' }}>
      <div style={{ position: 'absolute', left: 12, top: 4, fontSize: 17.5, lineHeight: '17.5px', textDecoration: 'underline', whiteSpace: 'nowrap' }}>Mouse plasma (n=55)</div>
      {PANELS.map((p, i) => (
        <PanelChart key={p.name} p={p} i={i} />
      ))}
    </div>
  );
}
